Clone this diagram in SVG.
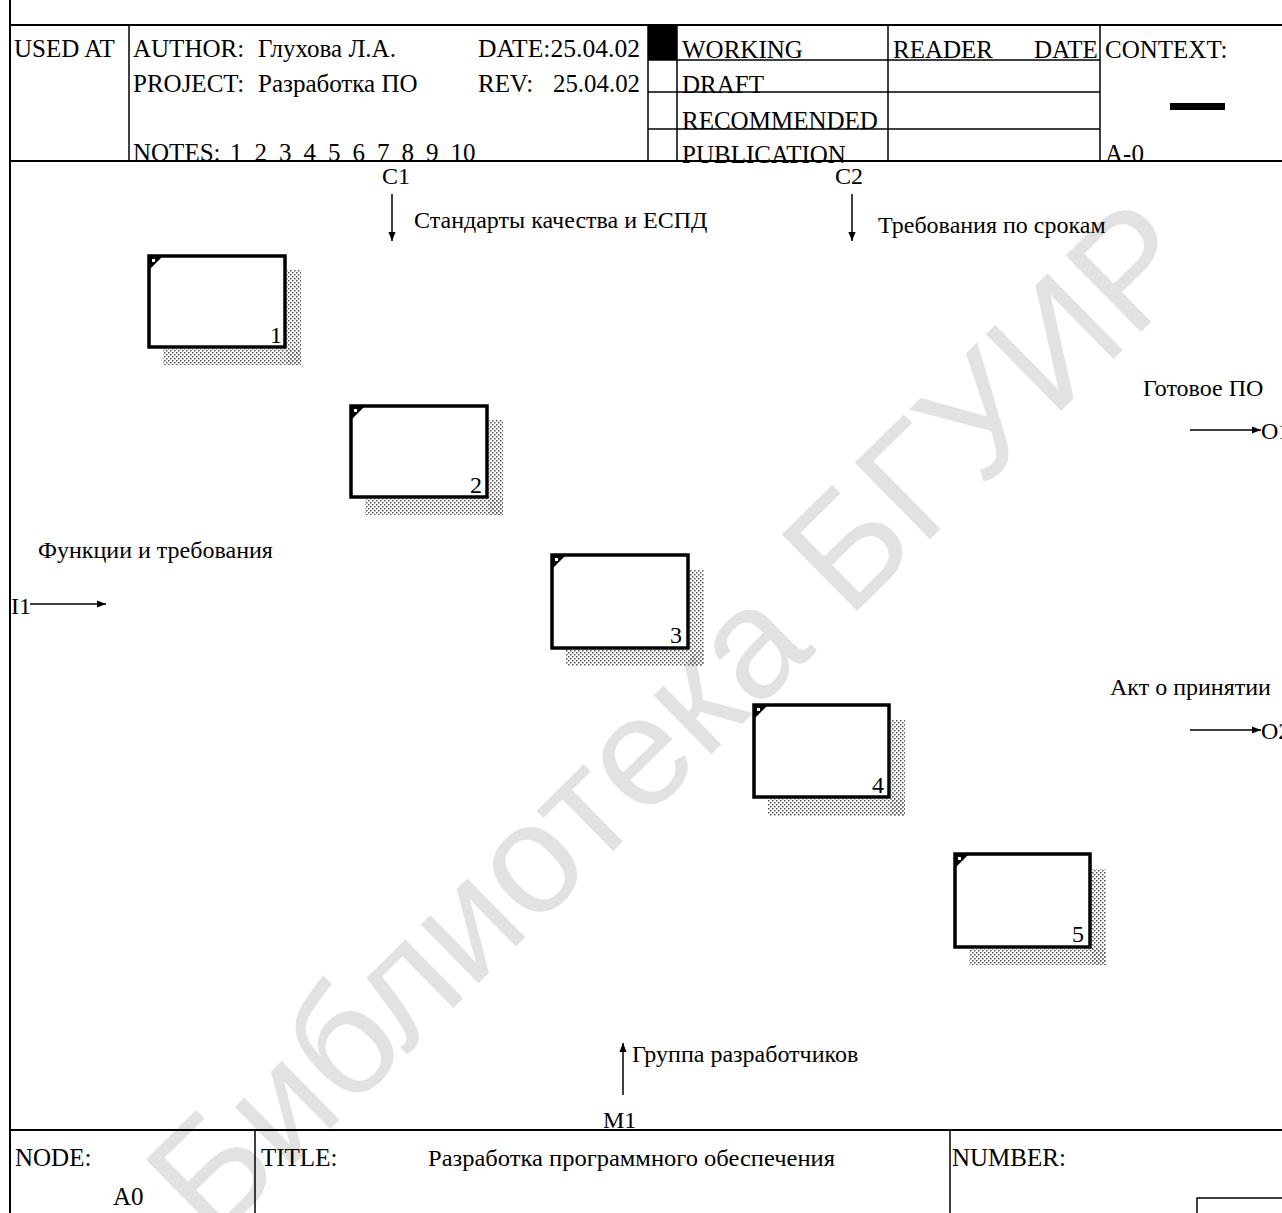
<svg xmlns="http://www.w3.org/2000/svg" width="1282" height="1213" viewBox="0 0 1282 1213">
<defs>
<style>
.t{font-family:"Liberation Serif","Times New Roman",serif;font-size:25px;fill:#000}
.l{font-family:"Liberation Serif","Times New Roman",serif;font-size:24px;fill:#000}
.ln{stroke:#000;stroke-width:2;fill:none}
.thin{stroke:#000;stroke-width:1.5;fill:none}
.box{fill:#fff;stroke:#000;stroke-width:3.5}
.sh{fill:url(#dots)}
.wm{font-family:"Liberation Sans",Arial,sans-serif;font-size:156px;fill:#e2e2e2}
</style>
<pattern id="dots" width="4" height="4" patternUnits="userSpaceOnUse">
<rect x="0" y="0" width="1.5" height="1.5" fill="#555"/>
<rect x="2" y="2" width="1.5" height="1.5" fill="#555"/>
</pattern>
<marker id="ah" viewBox="0 0 10 10" refX="10" refY="5" markerWidth="9" markerHeight="9" markerUnits="userSpaceOnUse" orient="auto">
<path d="M0,1 L10,5 L0,9 Z" fill="#000"/>
</marker>
</defs>
<rect width="1282" height="1213" fill="#fff"/>
<text class="wm" transform="translate(212,1245) rotate(-44.5)">Библиотека БГУИР</text>

<g id="frame">
<line class="ln" x1="10" y1="0" x2="10" y2="1213" stroke-width="2.5"/>
<line class="ln" x1="10" y1="25" x2="1282" y2="25"/>
<line class="ln" x1="10" y1="161" x2="1282" y2="161"/>
<line class="ln" x1="10" y1="1130" x2="1282" y2="1130"/>
</g>

<g id="header">
<line class="thin" x1="129" y1="25" x2="129" y2="161"/>
<line class="thin" x1="648" y1="25" x2="648" y2="161"/>
<rect x="648" y="25" width="29" height="35" fill="#000"/>
<line class="thin" x1="677" y1="25" x2="677" y2="161"/>
<line class="thin" x1="888" y1="25" x2="888" y2="161"/>
<line class="thin" x1="1100" y1="25" x2="1100" y2="161"/>
<line class="thin" x1="648" y1="60" x2="1100" y2="60"/>
<line class="thin" x1="648" y1="92" x2="1100" y2="92"/>
<line class="thin" x1="648" y1="129" x2="1100" y2="129"/>
<rect x="1170" y="103" width="55" height="7" fill="#000"/>
<text class="t" x="14" y="57">USED AT</text>
<text class="t" x="133" y="57">AUTHOR:</text>
<text class="t" x="258" y="57">Глухова Л.А.</text>
<text class="t" x="478" y="57" textLength="162" lengthAdjust="spacingAndGlyphs">DATE:25.04.02</text>
<text class="t" x="133" y="92">PROJECT:</text>
<text class="t" x="258" y="92">Разработка ПО</text>
<text class="t" x="478" y="92">REV:</text>
<text class="t" x="553" y="92" textLength="87" lengthAdjust="spacingAndGlyphs">25.04.02</text>
<text class="t" x="133" y="161">NOTES:</text>
<text class="t" y="161"><tspan x="230">1</tspan><tspan x="254.5">2</tspan><tspan x="279">3</tspan><tspan x="303.5">4</tspan><tspan x="328">5</tspan><tspan x="352.5">6</tspan><tspan x="377">7</tspan><tspan x="401.5">8</tspan><tspan x="426">9</tspan><tspan x="450.5">10</tspan></text>
<text class="t" x="682" y="58">WORKING</text>
<text class="t" x="682" y="93">DRAFT</text>
<text class="t" x="682" y="129">RECOMMENDED</text>
<text class="t" x="682" y="163">PUBLICATION</text>
<text class="t" x="893" y="58">READER</text>
<text class="t" x="1034" y="58">DATE</text>
<text class="t" x="1105" y="58">CONTEXT:</text>
<text class="t" x="1105" y="162">A-0</text>
</g>

<g id="footer">
<line class="thin" x1="255" y1="1130" x2="255" y2="1213"/>
<line class="thin" x1="950" y1="1130" x2="950" y2="1213"/>
<rect x="1197" y="1198" width="100" height="30" class="thin"/>
<text class="t" x="15" y="1166">NODE:</text>
<text class="t" x="113" y="1205">A0</text>
<text class="t" x="261" y="1166">TITLE:</text>
<text class="l" x="428" y="1166" textLength="407" lengthAdjust="spacingAndGlyphs">Разработка программного обеспечения</text>
<text class="t" x="952" y="1166">NUMBER:</text>
</g>

<g id="node1">
<rect class="sh" x="287" y="270" width="14" height="95"/>
<rect class="sh" x="163" y="349" width="138" height="16"/>
<rect class="box" x="149" y="256" width="136" height="91"/>
<path d="M149,256 h14 l-14,14 z" fill="#000"/><rect x="152" y="259" width="3" height="3" fill="#fff"/>
<text class="l" x="270" y="343">1</text>
</g>
<g id="node2">
<rect class="sh" x="489" y="420" width="14" height="95"/>
<rect class="sh" x="365" y="499" width="138" height="16"/>
<rect class="box" x="351" y="406" width="136" height="91"/>
<path d="M351,406 h14 l-14,14 z" fill="#000"/><rect x="354" y="409" width="3" height="3" fill="#fff"/>
<text class="l" x="470" y="493">2</text>
</g>
<g id="node3">
<rect class="sh" x="690" y="570" width="14" height="96"/>
<rect class="sh" x="566" y="650" width="138" height="16"/>
<rect class="box" x="552" y="555" width="136" height="93"/>
<path d="M552,555 h14 l-14,14 z" fill="#000"/><rect x="555" y="558" width="3" height="3" fill="#fff"/>
<text class="l" x="670" y="643">3</text>
</g>
<g id="node4">
<rect class="sh" x="891" y="720" width="14" height="96"/>
<rect class="sh" x="768" y="799" width="137" height="17"/>
<rect class="box" x="754" y="705" width="135" height="92"/>
<path d="M754,705 h14 l-14,14 z" fill="#000"/><rect x="757" y="708" width="3" height="3" fill="#fff"/>
<text class="l" x="872" y="793">4</text>
</g>
<g id="node5">
<rect class="sh" x="1092" y="869" width="14" height="96"/>
<rect class="sh" x="969" y="949" width="137" height="16"/>
<rect class="box" x="955" y="854" width="135" height="93"/>
<path d="M955,854 h14 l-14,14 z" fill="#000"/><rect x="958" y="857" width="3" height="3" fill="#fff"/>
<text class="l" x="1072" y="942">5</text>
</g>

<g id="connectors">
<line class="thin" x1="392" y1="194" x2="392" y2="241" marker-end="url(#ah)"/>
<line class="thin" x1="852" y1="194" x2="852" y2="241" marker-end="url(#ah)"/>
<line class="thin" x1="30" y1="604" x2="106" y2="604" marker-end="url(#ah)"/>
<line class="thin" x1="1190" y1="430" x2="1261" y2="430" marker-end="url(#ah)"/>
<line class="thin" x1="1190" y1="730" x2="1261" y2="730" marker-end="url(#ah)"/>
<line class="thin" x1="623" y1="1095" x2="623" y2="1043" marker-end="url(#ah)"/>
<text class="l" x="382" y="184">C1</text>
<text class="l" x="414" y="228">Стандарты качества и ЕСПД</text>
<text class="l" x="835" y="184">C2</text>
<text class="l" x="878" y="233">Требования по срокам</text>
<text class="l" x="11" y="614">I1</text>
<text class="l" x="38" y="558">Функции и требования</text>
<text class="l" x="1143" y="396">Готовое ПО</text>
<text class="l" x="1261" y="439">O1</text>
<text class="l" x="1110" y="695">Акт о принятии</text>
<text class="l" x="1261" y="739">O2</text>
<text class="l" x="632" y="1062">Группа разработчиков</text>
<text class="l" x="603" y="1128">M1</text>
</g>
</svg>
